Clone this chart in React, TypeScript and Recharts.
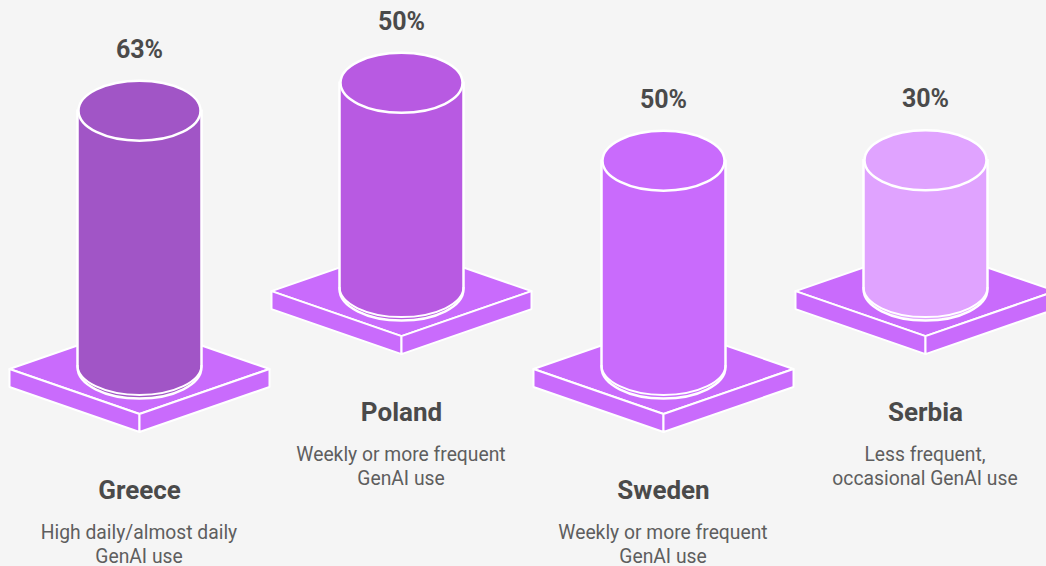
import { BarChart, Bar, XAxis, YAxis } from 'recharts';

// ─── data ─────────────────────────────────────────────────────────────────────

const COUNTRIES = ['Greece', 'Poland', 'Sweden', 'Serbia'];
const SHARES = [63, 50, 50, 30];
const DESCRIPTIONS = [
  ['High daily/almost daily', 'GenAI use'],
  ['Weekly or more frequent', 'GenAI use'],
  ['Weekly or more frequent', 'GenAI use'],
  ['Less frequent,', 'occasional GenAI use'],
];
// The picture staggers the columns and does not draw them strictly to scale,
// so the low/high ends are read off the drawing, in percent units.
const RANGE_LOW = [0, 19, 0, 19];
const RANGE_HIGH = [62.5, 69.3, 50.3, 50.4];
const FILLS = ['#a155c6', '#b85ae2', '#c96bfc', '#e0a3ff'];

const chartData = COUNTRIES.map((name, i) => ({
  name,
  share: SHARES[i],
  span: [RANGE_LOW[i], RANGE_HIGH[i]],
  fill: FILLS[i],
  lines: DESCRIPTIONS[i],
}));

// ─── shared styles ────────────────────────────────────────────────────────────

const BG = '#f5f5f5';
const PLATE = '#c96bfc';
const FONT = 'Roboto, sans-serif';
const TEXT_DARK = '#4a4a4a';
const TEXT_SOFT = '#5e5e5e';

// ─── column shape: plate, cylinder and its texts ──────────────────────────────

function Column(props: any) {
  const { x, y, width, height, payload } = props;
  const cx = x + width / 2;
  const rx = width / 2;
  const ry = 30;
  const base = y + height;

  // plate
  const pc = base + 2;
  const hw = 130;
  const hh = 45;
  const th = 18;
  const left = `${cx - hw},${pc}`;
  const right = `${cx + hw},${pc}`;
  const front = `${cx},${pc + hh}`;
  const back = `${cx},${pc - hh}`;
  const leftLow = `${cx - hw},${pc + th}`;
  const rightLow = `${cx + hw},${pc + th}`;
  const frontLow = `${cx},${pc + hh + th}`;

  return (
    <g>
      <g fill={PLATE} stroke="#ffffff" strokeWidth={2} strokeLinejoin="round">
        <polygon points={`${left} ${back} ${right} ${front}`} />
        <polygon points={`${left} ${front} ${frontLow} ${leftLow}`} />
        <polygon points={`${right} ${front} ${frontLow} ${rightLow}`} />
      </g>

      {/* cylinder body, slightly wider ring at the foot */}
      <path
        d={`M${cx - rx - 1},${y} L${cx - rx - 1},${base} A${rx + 1},${ry + 1.5} 0 0 0 ${cx + rx + 1},${base} L${cx + rx + 1},${y} Z`}
        fill={payload.fill}
        stroke="#ffffff"
        strokeWidth={2.5}
      />
      <path
        d={`M${cx - rx - 1},${base - 2} A${rx + 1},${ry} 0 0 0 ${cx + rx + 1},${base - 2}`}
        fill="none"
        stroke="#ffffff"
        strokeWidth={2}
      />
      <ellipse cx={cx} cy={y} rx={rx} ry={ry} fill={payload.fill} stroke="#ffffff" strokeWidth={2.5} />

      {/* texts */}
      <text x={cx} y={y - 53} textAnchor="middle" fontFamily={FONT} fontSize={25} fontWeight={700} fill={TEXT_DARK}>
        {payload.share}%
      </text>
      <text x={cx} y={base + 132} textAnchor="middle" fontFamily={FONT} fontSize={26} fontWeight={700} fill={TEXT_DARK}>
        {payload.name}
      </text>
      {payload.lines.map((line: string, i: number) => (
        <text key={i} x={cx - 0.5} y={base + 171.5 + i * 24} textAnchor="middle" fontFamily={FONT} fontSize={19.3} fill={TEXT_SOFT}>
          {line}
        </text>
      ))}
    </g>
  );
}

export default function App() {
  return (
    <div style={{ position: 'absolute', left: 0, top: 0, width: 1046, height: 566, overflow: 'hidden', background: BG }}>
      <BarChart
        width={1056.5}
        height={566}
        data={chartData}
        margin={{ top: 0, right: 0, bottom: 199, left: 8.5 }}
        style={{ overflow: 'visible' }}
      >
        <XAxis dataKey="name" hide />
        <YAxis hide domain={[0, 89.5]} />
        <Bar dataKey="span" barSize={122} isAnimationActive={false} shape={Column} />
      </BarChart>
    </div>
  );
}
